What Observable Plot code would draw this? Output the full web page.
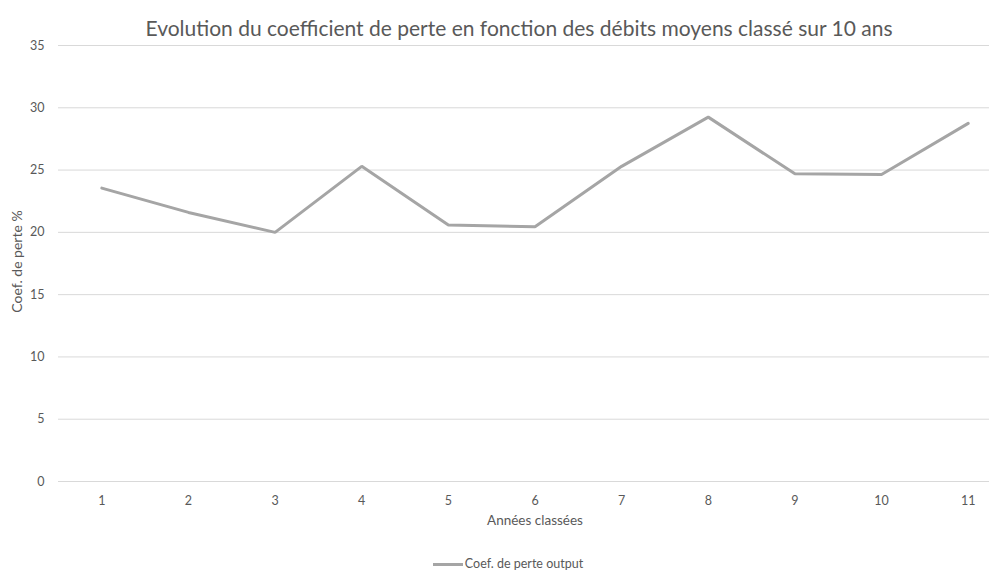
<!DOCTYPE html>
<html><head><meta charset="utf-8">
<script src="https://cdn.jsdelivr.net/npm/d3@7"></script>
<script src="https://cdn.jsdelivr.net/npm/@observablehq/plot@0.6"></script>
<style>
html,body{margin:0;padding:0;background:#fff;overflow:hidden;width:989px;height:572px;}
#wrap{position:relative;width:989px;height:572px;font-family:Lato,"Open Sans",sans-serif;color:#595959;}
#title{position:absolute;top:14px;left:0;width:1038px;text-align:center;font-size:21px;line-height:28px;color:#595959;white-space:nowrap;}
#chart{position:absolute;top:0;left:0;}
#legend{position:absolute;top:556px;left:0;width:1016px;text-align:center;font-size:12.5px;line-height:16px;color:#595959;white-space:nowrap;}
#legend .sw{display:inline-block;width:30px;height:3px;background:#a5a5a5;vertical-align:middle;margin-right:2px;}
</style></head>
<body><div id="wrap">
<div id="chart"></div>
<div id="title">Evolution du coefficient de perte en fonction des débits moyens classé sur 10 ans</div>
<div id="legend"><span class="sw"></span>Coef. de perte output</div>
</div>
<script>
const years = [1,2,3,4,5,6,7,8,9,10,11];
const coefPerte = [23.55, 21.6, 20.0, 25.3, 20.6, 20.45, 25.3, 29.25, 24.7, 24.65, 28.75];
const yTicks = [0,5,10,15,20,25,30,35];
const xLabel = "Années classées";
const yLabel = "Coef. de perte %";

const data = years.map((y,i)=>({year:y, value:coefPerte[i]}));

const plot = Plot.plot({
  width: 989,
  height: 540,
  marginTop: 45,
  marginBottom: 59,
  marginLeft: 58,
  marginRight: -22,
  style: {fontFamily: "Lato, 'Open Sans', sans-serif", fontSize: "12px", color: "#595959", background: "transparent"},
  x: {type: "band", domain: years, padding: 0, round: false},
  y: {domain: [0, 35]},
  marks: [
    Plot.gridY(yTicks, {stroke: "#d9d9d9", strokeOpacity: 1, strokeWidth: 1}),
    Plot.axisY(yTicks, {tickSize: 0, tickPadding: 14, label: null, fontSize: 12.5}),
    Plot.axisX({tickSize: 0, tickPadding: 15, label: null, fontSize: 12.5}),
    Plot.text([yLabel], {frameAnchor: "left", textAnchor: "middle", dx: -41, dy: -2, rotate: -90, fontSize: 14, fill: "#595959"}),
    Plot.text([xLabel], {frameAnchor: "bottom", dy: 43, fontSize: 13.5, fill: "#595959"}),
    Plot.lineY(data, {x: "year", y: "value", stroke: "#a5a5a5", strokeWidth: 3, strokeLinejoin: "miter"})
  ]
});
document.getElementById("chart").appendChild(plot);
</script>
</body></html>
